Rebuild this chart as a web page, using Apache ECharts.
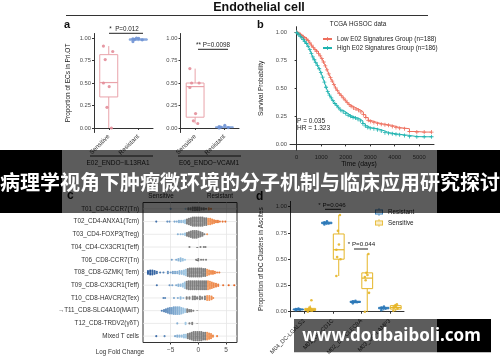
<!DOCTYPE html>
<html><head><meta charset="utf-8">
<script src="https://cdn.jsdelivr.net/npm/echarts@6/dist/echarts.min.js"></script>
<style>html,body{margin:0;padding:0;background:#fff}#c{width:500px;height:362px}</style>
</head><body><div id="c"></div>
<script>
// ---------- DATA ----------
const groupsA = ['Sensitive', 'Resistant'];
// box stats [min, q1, median, q3, max]
const boxA1 = [[0.0, 0.345, 0.505, 0.815, 0.91], [0.965, 0.975, 0.985, 0.99, 1.0]];
const ptsA1 = [[0.91, 0.85, 0.76, 0.50, 0.46, 0.23, 0.0], [0.96, 0.98, 0.985, 0.99, 0.995, 1.0]];
const boxA2 = [[0.05, 0.12, 0.46, 0.50, 0.66], [0.0, 0.004, 0.008, 0.013, 0.03]];
const ptsA2 = [[0.66, 0.50, 0.50, 0.45, 0.16, 0.08, 0.05], [0.0, 0.005, 0.01, 0.015, 0.03]];

const survTicks = [0, 1000, 2000, 3000, 4000, 5000];
const propTicks = [0, 0.25, 0.5, 0.75, 1];
const survLow = [[0,1],[40,0.995],[90,0.99],[150,0.98],[210,0.97],[270,0.96],[330,0.95],[400,0.94],[470,0.925],[540,0.905],[610,0.885],[680,0.865],[750,0.845],[820,0.83],[890,0.81],[960,0.79],[1030,0.765],[1100,0.735],[1170,0.70],[1240,0.665],[1310,0.63],[1380,0.595],[1450,0.565],[1520,0.535],[1590,0.505],[1660,0.48],[1740,0.455],[1820,0.435],[1900,0.415],[1980,0.395],[2060,0.375],[2140,0.355],[2220,0.34],[2320,0.325],[2420,0.315],[2520,0.305],[2620,0.29],[2720,0.265],[2820,0.24],[2920,0.215],[3020,0.205],[3150,0.195],[3300,0.185],[3450,0.18],[3600,0.175],[3750,0.17],[3900,0.16],[4050,0.15],[4200,0.145],[4400,0.14],[4600,0.115],[4900,0.11],[5200,0.11],[5500,0.11]];
const survHigh = [[0,1],[40,0.99],[90,0.98],[150,0.965],[210,0.95],[270,0.935],[330,0.92],[400,0.9],[470,0.875],[540,0.845],[600,0.81],[660,0.78],[720,0.755],[780,0.73],[850,0.705],[920,0.675],[990,0.64],[1060,0.6],[1130,0.555],[1200,0.51],[1270,0.47],[1340,0.44],[1410,0.415],[1480,0.39],[1560,0.365],[1640,0.345],[1720,0.325],[1800,0.305],[1900,0.29],[2000,0.275],[2100,0.26],[2200,0.25],[2300,0.24],[2400,0.235],[2500,0.225],[2600,0.21],[2700,0.185],[2800,0.165],[2900,0.15],[3000,0.145],[3150,0.14],[3300,0.13],[3450,0.12],[3600,0.105],[3750,0.1],[3900,0.095],[4050,0.09],[4200,0.085],[4400,0.08],[4600,0.07],[4900,0.068],[5200,0.068],[5500,0.068]];

const cTypes = ['T01_CD4-CCR7(Tn)','T02_CD4-ANXA1(Tcm)','T03_CD4-FOXP3(Treg)','T04_CD4-CX3CR1(Teff)','T06_CD8-CCR7(Tn)','T08_CD8-GZMK( Tem)','T09_CD8-CX3CR1(Teff)','T10_CD8-HAVCR2(Tex)','\u2192T11_CD8-SLC4A10(MAIT)','T12_CD8-TRDV2(\u03B3\u03B4T)','Mixed T cells'];
const lfcTicks = [-5, 0, 5];
// per cell type: [logFC, number of neighbourhoods stacked at that logFC]
const swarmT01 = [[-5,1],[-2.3,1],[-1.8,2],[-1.4,2],[-1.0,3],[-0.6,3],[-0.2,3],[0.2,3],[0.6,2],[1.0,2],[1.4,1],[1.9,2],[2.3,1]];
const swarmT02 = [[-7.6,1],[-5.6,1],[-5.2,1],[-4.3,1],[-3.9,1],[-3.5,2],[-3.1,2],[-2.7,2],[-2.4,3],[-2.05,4],[-1.7,5],[-1.35,6],[-1.0,7],[-0.65,7],[-0.3,7],[0.05,7],[0.4,7],[0.75,7],[1.1,6],[1.45,6],[1.8,5],[2.15,5],[2.5,4],[2.85,3],[3.2,2],[3.55,2],[3.9,1],[4.4,1],[4.9,1]];
const swarmT03 = [[-3.7,1],[-3.2,1],[-2.8,1],[-2.4,2],[-2.05,3],[-1.7,4],[-1.35,5],[-1.0,6],[-0.65,6],[-0.3,6],[0.05,5],[0.4,4],[0.75,3],[1.1,1],[1.6,1]];
const swarmT04 = [[-1.6,1],[0.4,1],[1.0,1],[1.3,1]];
const swarmT06 = [[-4.8,1],[-4.0,1],[-3.6,2],[-3.2,3],[-2.8,2],[-2.4,1],[-0.4,1],[0.0,2],[0.5,1],[0.9,1],[1.4,1]];
const swarmT08 = [[-9.1,3],[-8.7,4],[-8.3,4],[-7.9,3],[-7.5,2],[-6.9,1],[-6.3,1],[-5.5,2],[-5.0,1],[-4.6,2],[-4.2,2],[-3.8,2],[-3.4,3],[-3.0,3],[-2.6,4],[-2.25,5],[-1.9,6],[-1.55,7],[-1.2,7],[-0.85,7],[-0.5,7],[-0.15,7],[0.2,7],[0.55,7],[0.9,6],[1.25,6],[1.6,5],[1.95,4],[2.3,3],[2.65,3],[3.0,2],[3.4,1],[3.8,1]];
const swarmT09 = [[-7.5,1],[-5.2,1],[-4.7,1],[-4.0,1],[-3.6,2],[-3.2,2],[-2.8,3],[-2.45,5],[-2.1,6],[-1.75,7],[-1.4,7],[-1.05,7],[-0.7,7],[-0.35,7],[0,7],[0.35,7],[0.7,7],[1.05,7],[1.4,7],[1.75,7],[2.1,6],[2.45,5],[2.8,4],[3.2,3],[3.6,2],[4.5,1],[5.5,1],[6.5,1]];
const swarmT10 = [[-6.3,1],[-6.0,1],[-4.4,1],[-3.7,1],[-3.2,2],[-2.7,1],[-2.1,2],[-1.6,2],[-1.0,3],[-0.6,3],[-0.2,2],[0.3,3],[0.7,2],[1.2,3],[1.6,4],[2.0,4],[2.4,3],[2.7,1]];
const swarmT11 = [[-6.6,1],[-6.2,2],[-5.85,3],[-5.5,4],[-5.15,5],[-4.8,5],[-4.45,6],[-4.1,6],[-3.75,6],[-3.4,6],[-3.05,5],[-2.7,4],[-2.35,3],[-2.0,3],[-1.65,2],[-1.3,2],[-0.9,1]];
const swarmT12 = [[-3.8,1],[-2.3,2],[-1.6,1],[-1.1,2]];
const swarmMixed = [[-7.6,1],[-6.1,1],[-4.2,1],[-3.8,2],[-3.4,2],[-3.0,2],[-2.6,3],[-2.25,3],[-1.9,4],[-1.55,5],[-1.2,6],[-0.85,7],[-0.5,7],[-0.15,7],[0.2,7],[0.55,7],[0.9,6],[1.25,6],[1.6,6],[1.95,5],[2.3,4],[2.65,2],[3.4,1]];
const swarms = [swarmT01, swarmT02, swarmT03, swarmT04, swarmT06, swarmT08, swarmT09, swarmT10, swarmT11, swarmT12, swarmMixed];

const dcClusters = ['M04_DC-LGALS2', 'M01_DC-CD1C', 'M02_DC-CLEC9A', 'M03_DC-LAMP3'];
const boxDRes = [[0.01,0.018,0.022,0.026,0.03],[0.825,0.838,0.845,0.852,0.865],[0.08,0.088,0.095,0.1,0.108],[0.012,0.028,0.035,0.042,0.052]];
const boxDSens = [[0.0,0.012,0.02,0.032,0.06],[0.34,0.50,0.59,0.74,0.92],[0.0,0.22,0.32,0.37,0.55],[0.005,0.025,0.04,0.058,0.075]];
const ptsDRes = [[0.015,0.02,0.022,0.025,0.03],[0.83,0.84,0.845,0.85,0.86],[0.08,0.09,0.095,0.1,0.105],[0.015,0.03,0.035,0.04,0.05]];
const ptsDSens = [[0.0,0.01,0.02,0.02,0.03,0.04,0.11],[0.34,0.5,0.52,0.59,0.64,0.77,0.92],[0.0,0.18,0.3,0.33,0.35,0.37,0.55],[0.01,0.03,0.04,0.04,0.05,0.06,0.07]];

// ---------- STYLE / HELPERS ----------
const FF = 'Liberation Sans, Arial, sans-serif';
const JIT = [-0.6, 0.45, -0.4, -0.6, 0.05, -0.2, 0.3, 0.6, -0.1];
const PLUS = 'path://M4,0H6V4H10V6H6V10H4V6H0V4H4Z';
const BOXICON = 'path://M0,2H10V8H0Z M1,3V7H9V3Z M0,4.6H10V5.4H0Z M4.6,0H5.4V2H4.6Z M4.6,8H5.4V10H4.6Z';

function hex2rgb(h){return [parseInt(h.slice(1,3),16),parseInt(h.slice(3,5),16),parseInt(h.slice(5,7),16)];}
function lerp(a,b,t){const A=hex2rgb(a),B=hex2rgb(b);return 'rgb('+A.map((x,i)=>Math.round(x+(B[i]-x)*t)).join(',')+')';}
function swarmColor(v){
  if (v >= 1.6) return lerp('#f29a5e', '#e4621f', Math.min(1, (v - 1.6) / 4));
  if (v <= -2.2) return lerp('#a3cbe6', '#2b5b9c', Math.min(1, (-2.2 - v) / 6.5));
  return '#7f7f7f';
}

function boxRender(color, off, wf){
  return function(params, api){
    const c = api.value(0);
    const bw = api.size([1, 0])[0];
    const cx = api.coord([c, 0])[0] + off * bw;
    const hw = wf * bw / 2;
    const y = i => api.coord([c, api.value(i)])[1];
    const lo = y(1), q1 = y(2), md = y(3), q3 = y(4), hi = y(5);
    const st = {stroke: color, lineWidth: 1, fill: 'rgba(0,0,0,0)'};
    return {type: 'group', children: [
      {type: 'line', shape: {x1: cx, y1: lo, x2: cx, y2: q1}, style: st},
      {type: 'line', shape: {x1: cx, y1: q3, x2: cx, y2: hi}, style: st},
      {type: 'rect', shape: {x: cx - hw, y: q3, width: 2 * hw, height: Math.max(q1 - q3, 0.8)}, style: st},
      {type: 'line', shape: {x1: cx - hw, y1: md, x2: cx + hw, y2: md}, style: Object.assign({}, st, {lineWidth: 1.2})}
    ]};
  };
}
function boxSeries(name, gi, rows, color, off, wf){
  // rows: [[categoryIndex, min, q1, med, q3, max], ...]
  return {type: 'custom', name: name, xAxisIndex: gi, yAxisIndex: gi, z: 2,
    itemStyle: {color: color}, data: rows, renderItem: boxRender(color, off, wf)};
}
function ptsRender(color, off, spread, r){
  return function(params, api){
    const g = api.value(0), v = api.value(1), i = api.value(2);
    const bw = api.size([1, 0])[0];
    const p = api.coord([g, v]);
    return {type: 'circle', shape: {cx: p[0] + off * bw + JIT[i % JIT.length] * spread * bw, cy: p[1], r: r}, style: {fill: color, opacity: 0.9}};
  };
}
function ptsSeries(name, gi, rows, color, off, spread, r){
  // rows: [[categoryIndex, value, pointIndex], ...]
  return {type: 'custom', name: name, xAxisIndex: gi, yAxisIndex: gi, z: 3, data: rows, renderItem: ptsRender(color, off, spread, r)};
}
const boxRows = (stats, g) => [[g].concat(stats)];
const allBoxRows = list => list.map((s, g) => [g].concat(s));
const ptRows = (vals, g) => vals.map((v, i) => [g, v, i]);
const allPtRows = list => { const out = []; list.forEach((arr, g) => arr.forEach((v, i) => out.push([g, v, i]))); return out; };

function propYAxis(gi, name, nameGap){
  return {
    gridIndex: gi, type: 'value', min: -0.05, max: 1.05,
    name: name || '', nameLocation: 'middle', nameGap: nameGap || 20,
    nameTextStyle: {fontSize: 6.5, color: '#222', fontFamily: FF},
    axisLine: {show: true, lineStyle: {color: '#333', width: 1}},
    axisTick: {show: true, length: 2, customValues: propTicks, lineStyle: {color: '#333'}},
    axisLabel: {customValues: propTicks, fontSize: 5.8, color: '#4d4d4d', margin: 3, fontFamily: FF, formatter: v => v.toFixed(2)},
    splitLine: {show: false}
  };
}
function catXAxis(gi, data, fs){
  return {
    gridIndex: gi, type: 'category', data: data,
    axisLine: {show: true, lineStyle: {color: '#333', width: 1}},
    axisTick: {show: true, alignWithLabel: true, length: 2, lineStyle: {color: '#333'}},
    axisLabel: {rotate: 45, interval: 0, fontSize: fs, color: '#333', margin: 3, fontFamily: FF},
    splitLine: {show: false}
  };
}

const cData = [];
swarms.forEach((arr, ci) => arr.forEach(b => cData.push([b[0], ci, b[1]])));

const option = {
  animation: false,
  backgroundColor: '#fff',
  textStyle: {fontFamily: FF},
  grid: [
    {left: 94, top: 33.5, width: 59, height: 99, outerBoundsMode: 'none'},
    {left: 180.5, top: 33.5, width: 58.5, height: 99, outerBoundsMode: 'none'},
    {left: 290, top: 26.7, width: 144, height: 123.3, outerBoundsMode: 'none'},
    {left: 143, top: 202.5, width: 94, height: 140, show: true, borderColor: '#333', borderWidth: 1, backgroundColor: '#fff', outerBoundsMode: 'none'},
    {left: 290, top: 201.4, width: 114, height: 115.6, outerBoundsMode: 'none'}
  ],
  xAxis: [
    catXAxis(0, groupsA, 6.3),
    catXAxis(1, groupsA, 6.3),
    {gridIndex: 2, type: 'value', min: -270, max: 5600,
     axisLine: {show: true, lineStyle: {color: '#333', width: 1}},
     axisTick: {show: true, length: 2, customValues: survTicks, lineStyle: {color: '#333'}},
     axisLabel: {customValues: survTicks, fontSize: 5.8, color: '#4d4d4d', margin: 4, fontFamily: FF, formatter: v => String(v)},
     splitLine: {show: false}},
    {gridIndex: 3, type: 'value', min: -10, max: 7, interval: 2.5,
     axisLine: {show: false},
     axisTick: {show: true, length: 2, customValues: lfcTicks, lineStyle: {color: '#333'}},
     axisLabel: {customValues: lfcTicks, fontSize: 6.5, color: '#4d4d4d', margin: 4, fontFamily: FF, formatter: v => (v < 0 ? '\u2212' + Math.abs(v) : String(v))},
     splitLine: {show: true, lineStyle: {color: ['#e6e6e6', '#f3f3f3'], width: 0.8}}},
    catXAxis(4, dcClusters, 5.8)
  ],
  yAxis: [
    propYAxis(0, 'Proportion of ECs in Pri.OT', 22),
    propYAxis(1),
    propYAxis(2, 'Survival Probability', 25),
    {gridIndex: 3, type: 'category', data: cTypes, inverse: true,
     axisLine: {show: false},
     axisTick: {show: true, alignWithLabel: true, length: 2, lineStyle: {color: '#333'}},
     axisLabel: {interval: 0, fontSize: 6.3, color: '#333', margin: 4, fontFamily: FF},
     splitLine: {show: false}},
    propYAxis(4, 'Proportion of DC Clusters in Ascites', 25)
  ],
  legend: [
    {data: ['Low E02 Signatures Group (n=188)', 'High E02 Signatures Group (n=186)'],
     orient: 'vertical', left: 317, top: 30, itemWidth: 9, itemHeight: 5, itemGap: 1,
     textStyle: {fontSize: 6.3, color: '#222', lineHeight: 8, fontFamily: FF}},
    {data: ['Resistant', 'Sensitive'], icon: BOXICON,
     orient: 'vertical', left: 370, top: 203, itemWidth: 8, itemHeight: 8, itemGap: 3,
     textStyle: {fontSize: 6.3, color: '#222', fontFamily: FF}}
  ],
  series: [
    boxSeries('a1s', 0, boxRows(boxA1[0], 0), '#e9a3aa', 0, 0.61),
    boxSeries('a1r', 0, boxRows(boxA1[1], 1), '#86a6dc', 0, 0.61),
    boxSeries('a2s', 1, boxRows(boxA2[0], 0), '#e9a3aa', 0, 0.61),
    boxSeries('a2r', 1, boxRows(boxA2[1], 1), '#86a6dc', 0, 0.61),
    ptsSeries('a1sp', 0, ptRows(ptsA1[0], 0), '#e38d99', 0, 0.3, 1.6),
    ptsSeries('a1rp', 0, ptRows(ptsA1[1], 1), '#6f92d4', 0, 0.3, 1.6),
    ptsSeries('a2sp', 1, ptRows(ptsA2[0], 0), '#e38d99', 0, 0.3, 1.6),
    ptsSeries('a2rp', 1, ptRows(ptsA2[1], 1), '#6f92d4', 0, 0.3, 1.6),
    {type: 'line', name: 'Low E02 Signatures Group (n=188)', xAxisIndex: 2, yAxisIndex: 2, data: survLow, step: 'end',
     symbol: PLUS, symbolSize: 4, showSymbol: true, color: '#ee6f5e', lineStyle: {width: 1, color: '#ee6f5e'}, itemStyle: {color: '#ee6f5e'}},
    {type: 'line', name: 'High E02 Signatures Group (n=186)', xAxisIndex: 2, yAxisIndex: 2, data: survHigh, step: 'end',
     symbol: PLUS, symbolSize: 4, showSymbol: true, color: '#1fb3b0', lineStyle: {width: 1, color: '#1fb3b0'}, itemStyle: {color: '#1fb3b0'}},
    {type: 'custom', name: 'cgrid', xAxisIndex: 3, yAxisIndex: 3, z: 1, silent: true,
     data: cTypes.map((_, i) => [0, i]),
     renderItem: function(params, api){
       const cs = params.coordSys;
       const y = api.coord([0, api.value(1)])[1];
       return {type: 'line', shape: {x1: cs.x, y1: y, x2: cs.x + cs.width, y2: y}, style: {stroke: '#e6e6e6', lineWidth: 0.8}};
     }},
    {type: 'custom', name: 'swarm', xAxisIndex: 3, yAxisIndex: 3, z: 2, data: cData,
     renderItem: function(params, api){
       const v = api.value(0), ci = api.value(1), n = api.value(2);
       const p = api.coord([v, ci]);
       const col = swarmColor(v);
       const ch = [];
       for (let k = 0; k < n; k++) {
         ch.push({type: 'circle', shape: {cx: p[0], cy: p[1] + (k - (n - 1) / 2) * 1.35, r: 1.05}, style: {fill: col}});
       }
       return {type: 'group', children: ch};
     }},
    boxSeries('Resistant', 4, allBoxRows(boxDRes), '#2b78b8', -0.21, 0.36),
    boxSeries('Sensitive', 4, allBoxRows(boxDSens), '#e5b527', 0.21, 0.38),
    ptsSeries('dResP', 4, allPtRows(ptsDRes), '#2b78b8', -0.21, 0.14, 1.3),
    ptsSeries('dSensP', 4, allPtRows(ptsDSens), '#e5b527', 0.21, 0.14, 1.3)
  ],
  graphic: [
    {type: 'text', x: 259, y: 8, z: 50, style: {text: 'Endothelial cell', font: 'bold 12.5px ' + FF, fill: '#111', align: 'center', verticalAlign: 'middle'}},
    {type: 'line', z: 50, shape: {x1: 66, y1: 15.5, x2: 428, y2: 15.5}, style: {stroke: '#333', lineWidth: 1.2}},
    {type: 'text', x: 64, y: 25, z: 50, style: {text: 'a', font: 'bold 11px ' + FF, fill: '#111', verticalAlign: 'middle'}},
    {type: 'text', x: 124, y: 29, z: 50, style: {text: '*  P=0.012', font: '6.3px ' + FF, fill: '#222', align: 'center', verticalAlign: 'middle'}},
    {type: 'line', z: 50, shape: {x1: 109, y1: 33.3, x2: 143, y2: 33.3}, style: {stroke: '#222', lineWidth: 1}},
    {type: 'text', x: 213, y: 45, z: 50, style: {text: '** P=0.0098', font: '6.3px ' + FF, fill: '#222', align: 'center', verticalAlign: 'middle'}},
    {type: 'line', z: 50, shape: {x1: 198, y1: 49.3, x2: 228, y2: 49.3}, style: {stroke: '#222', lineWidth: 1}},
    {type: 'line', z: 50, shape: {x1: 90, y1: 156, x2: 153, y2: 156}, style: {stroke: '#222', lineWidth: 1}},
    {type: 'line', z: 50, shape: {x1: 178, y1: 156, x2: 241, y2: 156}, style: {stroke: '#222', lineWidth: 1}},
    {type: 'text', x: 118, y: 163, z: 50, style: {text: 'E02_ENDO\u2212IL13RA1', font: '6.5px ' + FF, fill: '#222', align: 'center', verticalAlign: 'middle'}},
    {type: 'text', x: 209, y: 163, z: 50, style: {text: 'E06_ENDO\u2212VCAM1', font: '6.5px ' + FF, fill: '#222', align: 'center', verticalAlign: 'middle'}},
    {type: 'text', x: 257, y: 25, z: 50, style: {text: 'b', font: 'bold 11px ' + FF, fill: '#111', verticalAlign: 'middle'}},
    {type: 'text', x: 358, y: 24.5, z: 50, style: {text: 'TCGA HGSOC data', font: '6.3px ' + FF, fill: '#222', align: 'center', verticalAlign: 'middle'}},
    {type: 'text', x: 297, y: 121.7, z: 50, style: {text: 'P = 0.035', font: '6.5px ' + FF, fill: '#222', verticalAlign: 'middle'}},
    {type: 'text', x: 297, y: 128.5, z: 50, style: {text: 'HR = 1.323', font: '6.5px ' + FF, fill: '#222', verticalAlign: 'middle'}},
    {type: 'text', x: 359, y: 164, z: 50, style: {text: 'Time (days)', font: '6.8px ' + FF, fill: '#222', align: 'center', verticalAlign: 'middle'}},
    {type: 'text', x: 67, y: 196, z: 50, style: {text: 'c', font: 'bold 12px ' + FF, fill: '#111', verticalAlign: 'middle'}},
    {type: 'text', x: 161, y: 196.5, z: 50, style: {text: 'Sensitive', font: '6.3px ' + FF, fill: '#222', align: 'center', verticalAlign: 'middle'}},
    {type: 'text', x: 220, y: 196.5, z: 50, style: {text: 'Resistant', font: '6.3px ' + FF, fill: '#222', align: 'center', verticalAlign: 'middle'}},
    {type: 'text', x: 120, y: 352, z: 50, style: {text: 'Log Fold Change', font: '6.3px ' + FF, fill: '#333', align: 'center', verticalAlign: 'middle'}},
    {type: 'text', x: 256, y: 197, z: 50, style: {text: 'd', font: 'bold 12px ' + FF, fill: '#111', verticalAlign: 'middle'}},
    {type: 'text', x: 332, y: 205.7, z: 50, style: {text: '* P=0.046', font: '6.2px ' + FF, fill: '#222', align: 'center', verticalAlign: 'middle'}},
    {type: 'line', z: 50, shape: {x1: 325, y1: 209.3, x2: 341, y2: 209.3}, style: {stroke: '#222', lineWidth: 1}},
    {type: 'text', x: 361.5, y: 244, z: 50, style: {text: '* P=0.044', font: '6.2px ' + FF, fill: '#222', align: 'center', verticalAlign: 'middle'}},
    {type: 'line', z: 50, shape: {x1: 354, y1: 249, x2: 368, y2: 249}, style: {stroke: '#222', lineWidth: 1}},
    // overlays
    {type: 'rect', z: 100, shape: {x: 62, y: 150, width: 375, height: 63}, style: {fill: 'rgba(0,0,0,0.64)'}},
    {type: 'rect', z: 100, shape: {x: 0, y: 150, width: 62, height: 63}, style: {fill: '#000'}},
    {type: 'rect', z: 100, shape: {x: 437, y: 150, width: 63, height: 63}, style: {fill: '#000'}},
    {type: 'text', x: 250, y: 182, z: 101, style: {text: '病理学视角下肿瘤微环境的分子机制与临床应用研究探讨', font: 'bold 20px "Noto Sans CJK SC", sans-serif', fill: '#fff', align: 'center', verticalAlign: 'middle'}},
    {type: 'rect', z: 100, shape: {x: 294, y: 319, width: 143, height: 33.3}, style: {fill: 'rgba(0,0,0,0.64)'}},
    {type: 'rect', z: 100, shape: {x: 437, y: 319, width: 54, height: 33.3}, style: {fill: '#000'}},
    {type: 'text', x: 391.5, y: 336, z: 101, style: {text: 'www.doubaiboli.com', font: 'bold 17px "Noto Sans", sans-serif', fill: '#fff', align: 'center', verticalAlign: 'middle'}}
  ]
};
const chart = echarts.init(document.getElementById('c'), null, {renderer: 'canvas', width: 500, height: 362});
chart.setOption(option);
</script>
</body></html>
